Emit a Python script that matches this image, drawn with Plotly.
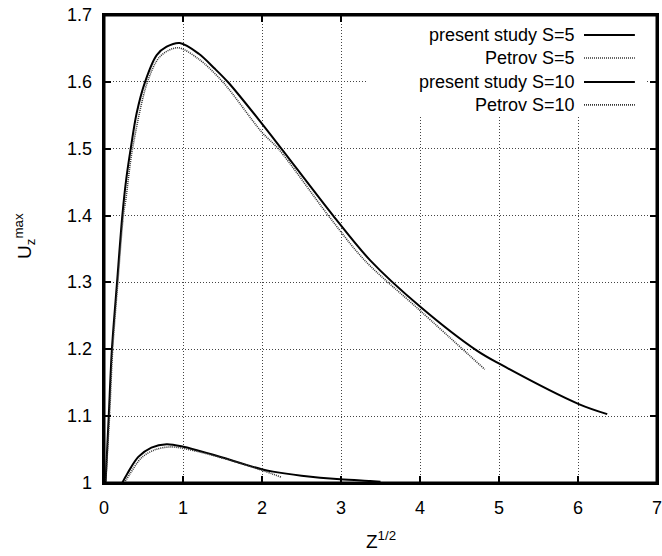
import plotly.graph_objects as go

# ---- data ----
# upper pair of curves
present_s10_x = [0.02, 0.06, 0.10, 0.165, 0.232, 0.28, 0.338, 0.413, 0.52, 0.667, 0.793, 0.96,
                 1.2, 1.4, 1.574, 1.996, 2.25, 2.90, 3.37, 4.0, 4.72, 5.01, 6.01, 6.37]
present_s10_u = [1.0, 1.1, 1.2, 1.3, 1.4, 1.453, 1.5, 1.553, 1.60, 1.640, 1.6526, 1.658,
                 1.642, 1.620, 1.599, 1.538, 1.4995, 1.400, 1.333, 1.264, 1.198, 1.178, 1.118, 1.103]

petrov_s10_x = [0.02, 0.07, 0.11, 0.175, 0.245, 0.275, 0.358, 0.55, 0.71, 0.93,
                1.2, 1.51, 1.996, 2.21, 2.84, 3.30, 4.0, 4.82]
petrov_s10_u = [1.0, 1.1, 1.2, 1.3, 1.4, 1.423, 1.498, 1.60, 1.638, 1.651,
                1.634, 1.599, 1.525, 1.4995, 1.40, 1.333, 1.258, 1.170]

# lower pair of curves
present_s5_x = [0.23, 0.30, 0.434, 0.60, 0.793, 1.004, 1.36, 1.996, 2.14, 2.50, 2.99, 3.37, 3.5]
present_s5_u = [1.0, 1.015, 1.039, 1.053, 1.058, 1.0543, 1.043, 1.0205, 1.017, 1.011, 1.0055, 1.003, 1.002]

petrov_s5_x = [0.257, 0.33, 0.477, 0.65, 0.857, 1.15, 1.6, 2.0, 2.25]
petrov_s5_u = [1.0, 1.014, 1.038, 1.050, 1.054, 1.048, 1.034, 1.019, 1.0085]

legend_names = ["present study S=5", "Petrov S=5", "present study S=10", "Petrov S=10"]

x_ticks = [0, 1, 2, 3, 4, 5, 6, 7]
x_tick_text = ["0", "1", "2", "3", "4", "5", "6", "7"]
y_ticks = [1.0, 1.1, 1.2, 1.3, 1.4, 1.5, 1.6, 1.7]
y_tick_text = ["1", "1.1", "1.2", "1.3", "1.4", "1.5", "1.6", "1.7"]
x_title = "Z<sup>1/2</sup>"
y_title = "U<sub>z</sub><sup>max</sup>"

FONT = "Liberation Sans, Arial, sans-serif"
TXT = dict(family=FONT, size=18, color="black")
SOLID = dict(color="black", width=2)
DOTTED = dict(color="#333333", width=1.6, dash="1px,1px")

fig = go.Figure()
series = [
    (present_s5_x, present_s5_u, legend_names[0], SOLID),
    (petrov_s5_x, petrov_s5_u, legend_names[1], DOTTED),
    (present_s10_x, present_s10_u, legend_names[2], SOLID),
    (petrov_s10_x, petrov_s10_u, legend_names[3], DOTTED),
]
for xs, us, name, ln in series:
    fig.add_trace(go.Scatter(x=xs, y=us, mode="lines", name=name,
                             line=dict(shape="spline", smoothing=0.9, **ln),
                             showlegend=False, hoverinfo="skip"))

# gnuplot-style key: white box, text right-aligned, sample to the right
fig.add_shape(type="rect", xref="paper", yref="paper", x0=0.477, x1=0.980, y0=0.782, y1=1.0,
              fillcolor="white", line=dict(width=0), layer="above")
rows_y = [0.957, 0.908, 0.857, 0.808]
for name, ry, ln in zip(legend_names, rows_y, [SOLID, DOTTED, SOLID, DOTTED]):
    fig.add_annotation(xref="paper", yref="paper", x=0.855, y=ry, text=name, showarrow=False,
                       xanchor="right", yanchor="middle", font=TXT)
    fig.add_shape(type="line", xref="paper", yref="paper", x0=0.868, x1=0.960, y0=ry, y1=ry,
                  layer="above",
                  line=dict(color=ln["color"], width=ln["width"], dash=ln.get("dash", "solid")))

# plot frame centred on the plot-area edges (gnuplot border)
fig.add_shape(type="rect", xref="paper", yref="paper", x0=0, x1=1, y0=0, y1=1,
              fillcolor="rgba(0,0,0,0)", line=dict(color="black", width=3), layer="above")

# tick labels placed on the axis scales (gnuplot spacing; the last one overhangs the page edge)
for xv, xt in zip(x_ticks, x_tick_text):
    fig.add_annotation(xref="x", yref="paper", x=xv, y=0, yshift=-13, text=xt,
                       showarrow=False, xanchor="center", yanchor="top", font=TXT)
for yv, yt in zip(y_ticks, y_tick_text):
    fig.add_annotation(xref="paper", yref="y", x=0, y=yv, xshift=-10, text=yt,
                       showarrow=False, xanchor="right", yanchor="middle", font=TXT)

# axis titles
fig.add_annotation(xref="paper", yref="paper", x=0.5, y=0, yshift=-57, text=x_title,
                   showarrow=False, xanchor="center", yanchor="middle",
                   font=dict(family=FONT, size=19, color="black"))
fig.add_annotation(xref="paper", yref="paper", x=0, y=0.528, xshift=-79, text=y_title,
                   showarrow=False, xanchor="center", yanchor="middle", textangle=-90,
                   font=dict(family=FONT, size=19, color="black"))

axis_common = dict(showline=True, linecolor="black", linewidth=1.5, mirror="ticks",
                   ticks="inside", ticklen=7, tickwidth=2, tickcolor="black",
                   showticklabels=False,
                   showgrid=True, gridcolor="#444444", gridwidth=1, griddash="1px,2px",
                   zeroline=False)

fig.update_layout(
    xaxis=dict(range=[0, 7], tickvals=x_ticks, **axis_common),
    yaxis=dict(range=[1, 1.7], tickvals=y_ticks, **axis_common),
    width=662, height=556, margin=dict(l=104, r=5, t=15, b=73, autoexpand=False),
    paper_bgcolor="white", plot_bgcolor="white",
    font=dict(family=FONT, size=18, color="black"),
)

# remove the default page margin and scrollbars so the figure sits exactly in the window
fig.write_html("out.html", config={"displayModeBar": False},
               post_script="document.documentElement.style.overflow='hidden';"
                           "document.body.style.overflow='hidden';"
                           "document.body.style.margin='0';")
